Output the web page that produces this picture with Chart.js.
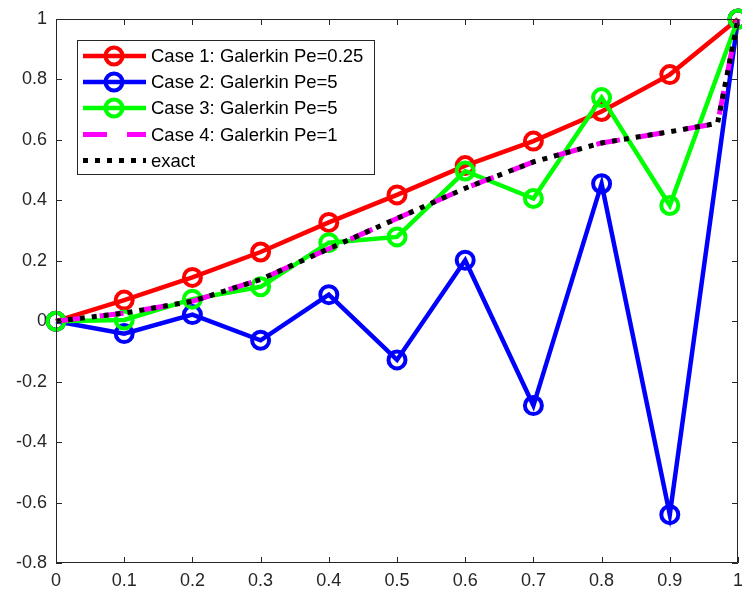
<!DOCTYPE html>
<html>
<head>
<meta charset="utf-8">
<script src="https://cdn.jsdelivr.net/npm/chart.js"></script>
<style>
body { margin: 0; background: #fff; }
#wrap { width: 742px; height: 592px; }
</style>
</head>
<body>
<div id="wrap"><canvas id="chart" width="742" height="592"></canvas></div>
<script>

// ==========================
// data
// ==========================

const xNodes = [0, 0.1, 0.2, 0.3, 0.4, 0.5, 0.6, 0.7, 0.8, 0.9, 1];
const case1 = [0, 0.07, 0.145, 0.229, 0.327, 0.418, 0.515, 0.596, 0.694, 0.816, 1];
const case2 = [0, -0.041, 0.022, -0.063, 0.088, -0.128, 0.202, -0.279, 0.455, -0.64, 1];
const case3 = [0, 0.004, 0.073, 0.114, 0.26, 0.279, 0.497, 0.406, 0.74, 0.383, 1];

const xExact = [0, 0.1, 0.2, 0.3, 0.4, 0.5, 0.6, 0.7, 0.8, 0.9, 0.97, 1];
const case4 = [0, 0.027, 0.066, 0.138, 0.24, 0.34, 0.44, 0.527, 0.59, 0.627, 0.655, 1];
const exact = [0, 0.027, 0.066, 0.138, 0.24, 0.34, 0.44, 0.527, 0.59, 0.627, 0.655, 1];

const xTicks = [0, 0.1, 0.2, 0.3, 0.4, 0.5, 0.6, 0.7, 0.8, 0.9, 1];
const yTicks = [-0.8, -0.6, -0.4, -0.2, 0, 0.2, 0.4, 0.6, 0.8, 1];

const labels = [
  "Case 1: Galerkin Pe=0.25",
  "Case 2: Galerkin Pe=5",
  "Case 3: Galerkin Pe=5",
  "Case 4: Galerkin Pe=1",
  "exact"
];

const AXIS_COLOR = "#262626";
const FONT = "'Liberation Sans', Arial, sans-serif";

function pts(xs, ys) {
  return xs.map((x, i) => ({ x: x, y: ys[i] }));
}

function circleSeries(label, color, ys, order) {
  return {
    label: label,
    data: pts(xNodes, ys),
    borderColor: color,
    backgroundColor: "transparent",
    borderWidth: 4.5,
    pointRadius: 8.5,
    pointBorderWidth: 4,
    pointBorderColor: color,
    pointBackgroundColor: "transparent",
    pointStyle: "circle",
    tension: 0,
    clip: false,
    order: order
  };
}


// ==========================
// box + inward ticks (MATLAB look)
// ==========================

const boxPlugin = {
  id: "box",
  afterDatasetsDraw(chart) {
    const { ctx, chartArea: a, scales } = chart;
    const len = 6;
    ctx.save();
    ctx.strokeStyle = AXIS_COLOR;
    ctx.lineWidth = 1;
    ctx.beginPath();
    ctx.rect(a.left + 0.5, a.top + 0.5, a.right - a.left - 1, a.bottom - a.top - 1);
    for (const v of xTicks) {
      const px = Math.round(scales.x.getPixelForValue(v)) + 0.5;
      ctx.moveTo(px, a.bottom);
      ctx.lineTo(px, a.bottom - len);
      ctx.moveTo(px, a.top);
      ctx.lineTo(px, a.top + len);
    }
    for (const v of yTicks) {
      const py = Math.round(scales.y.getPixelForValue(v)) + 0.5;
      ctx.moveTo(a.left, py);
      ctx.lineTo(a.left + len, py);
      ctx.moveTo(a.right, py);
      ctx.lineTo(a.right - len, py);
    }
    ctx.stroke();
    ctx.restore();
  }
};


// ==========================
// legend inside the axes
// ==========================

const legendPlugin = {
  id: "innerLegend",
  afterDraw(chart) {
    const ctx = chart.ctx;
    const x0 = 77, y0 = 40, w = 297, h = 134;
    const rowY = [56, 82, 108, 134.5, 160.5];
    ctx.save();
    ctx.fillStyle = "#fff";
    ctx.fillRect(x0, y0, w, h);
    ctx.strokeStyle = AXIS_COLOR;
    ctx.lineWidth = 1;
    ctx.strokeRect(x0 + 0.5, y0 + 0.5, w, h);

    chart.data.datasets.forEach((ds, i) => {
      const y = rowY[i];
      ctx.save();
      ctx.strokeStyle = ds.borderColor;
      ctx.lineWidth = ds.borderWidth;
      ctx.setLineDash(ds.borderDash || []);
      ctx.beginPath();
      ctx.moveTo(83, y);
      ctx.lineTo(146, y);
      ctx.stroke();
      ctx.setLineDash([]);
      if (ds.pointRadius > 0) {
        ctx.lineWidth = ds.pointBorderWidth;
        ctx.beginPath();
        ctx.arc(114, y, ds.pointRadius, 0, Math.PI * 2);
        ctx.stroke();
      }
      ctx.restore();

      ctx.fillStyle = "#000";
      ctx.font = "18.5px " + FONT;
      ctx.textBaseline = "middle";
      ctx.textAlign = "left";
      ctx.fillText(ds.label, 151, y + 1);
    });
    ctx.restore();
  }
};


// ==========================
// chart
// ==========================

new Chart(document.getElementById("chart"), {
  type: "line",
  data: {
    datasets: [
      circleSeries(labels[0], "#ff0000", case1, 4),
      circleSeries(labels[1], "#0000ff", case2, 3),
      circleSeries(labels[2], "#00ff00", case3, 2),
      {
        label: labels[3],
        data: pts(xExact, case4),
        borderColor: "#ff00ff",
        borderWidth: 5,
        borderDash: [24, 20],
        pointRadius: 0,
        tension: 0,
        clip: false,
        order: 1
      },
      {
        label: labels[4],
        data: pts(xExact, exact),
        borderColor: "#000000",
        borderWidth: 5,
        borderDash: [5, 7],
        pointRadius: 0,
        tension: 0,
        clip: false,
        order: 0
      }
    ]
  },
  options: {
    responsive: false,
    animation: false,
    events: [],
    layout: { autoPadding: false, padding: { top: 19, right: 4, left: 0, bottom: 0 } },
    plugins: {
      legend: { display: false },
      tooltip: { enabled: false }
    },
    scales: {
      x: {
        type: "linear",
        min: 0,
        max: 1,
        grid: { display: false, drawTicks: false },
        border: { display: false },
        afterBuildTicks: s => { s.ticks = xTicks.map(v => ({ value: v })); },
        afterFit: s => { s.height = 29; s.paddingLeft = 0; s.paddingRight = 0; },
        ticks: {
          color: AXIS_COLOR,
          font: { family: FONT, size: 18 },
          padding: 7,
          maxRotation: 0,
          autoSkip: false,
          callback: v => String(v)
        }
      },
      y: {
        type: "linear",
        min: -0.8,
        max: 1,
        grid: { display: false, drawTicks: false },
        border: { display: false },
        afterBuildTicks: s => { s.ticks = yTicks.map(v => ({ value: v })); },
        afterFit: s => { s.width = 56; s.paddingTop = 0; s.paddingBottom = 0; },
        ticks: {
          color: AXIS_COLOR,
          font: { family: FONT, size: 18 },
          padding: 9,
          autoSkip: false,
          callback: v => String(v)
        }
      }
    }
  },
  plugins: [boxPlugin, legendPlugin]
});

</script>
</body>
</html>
